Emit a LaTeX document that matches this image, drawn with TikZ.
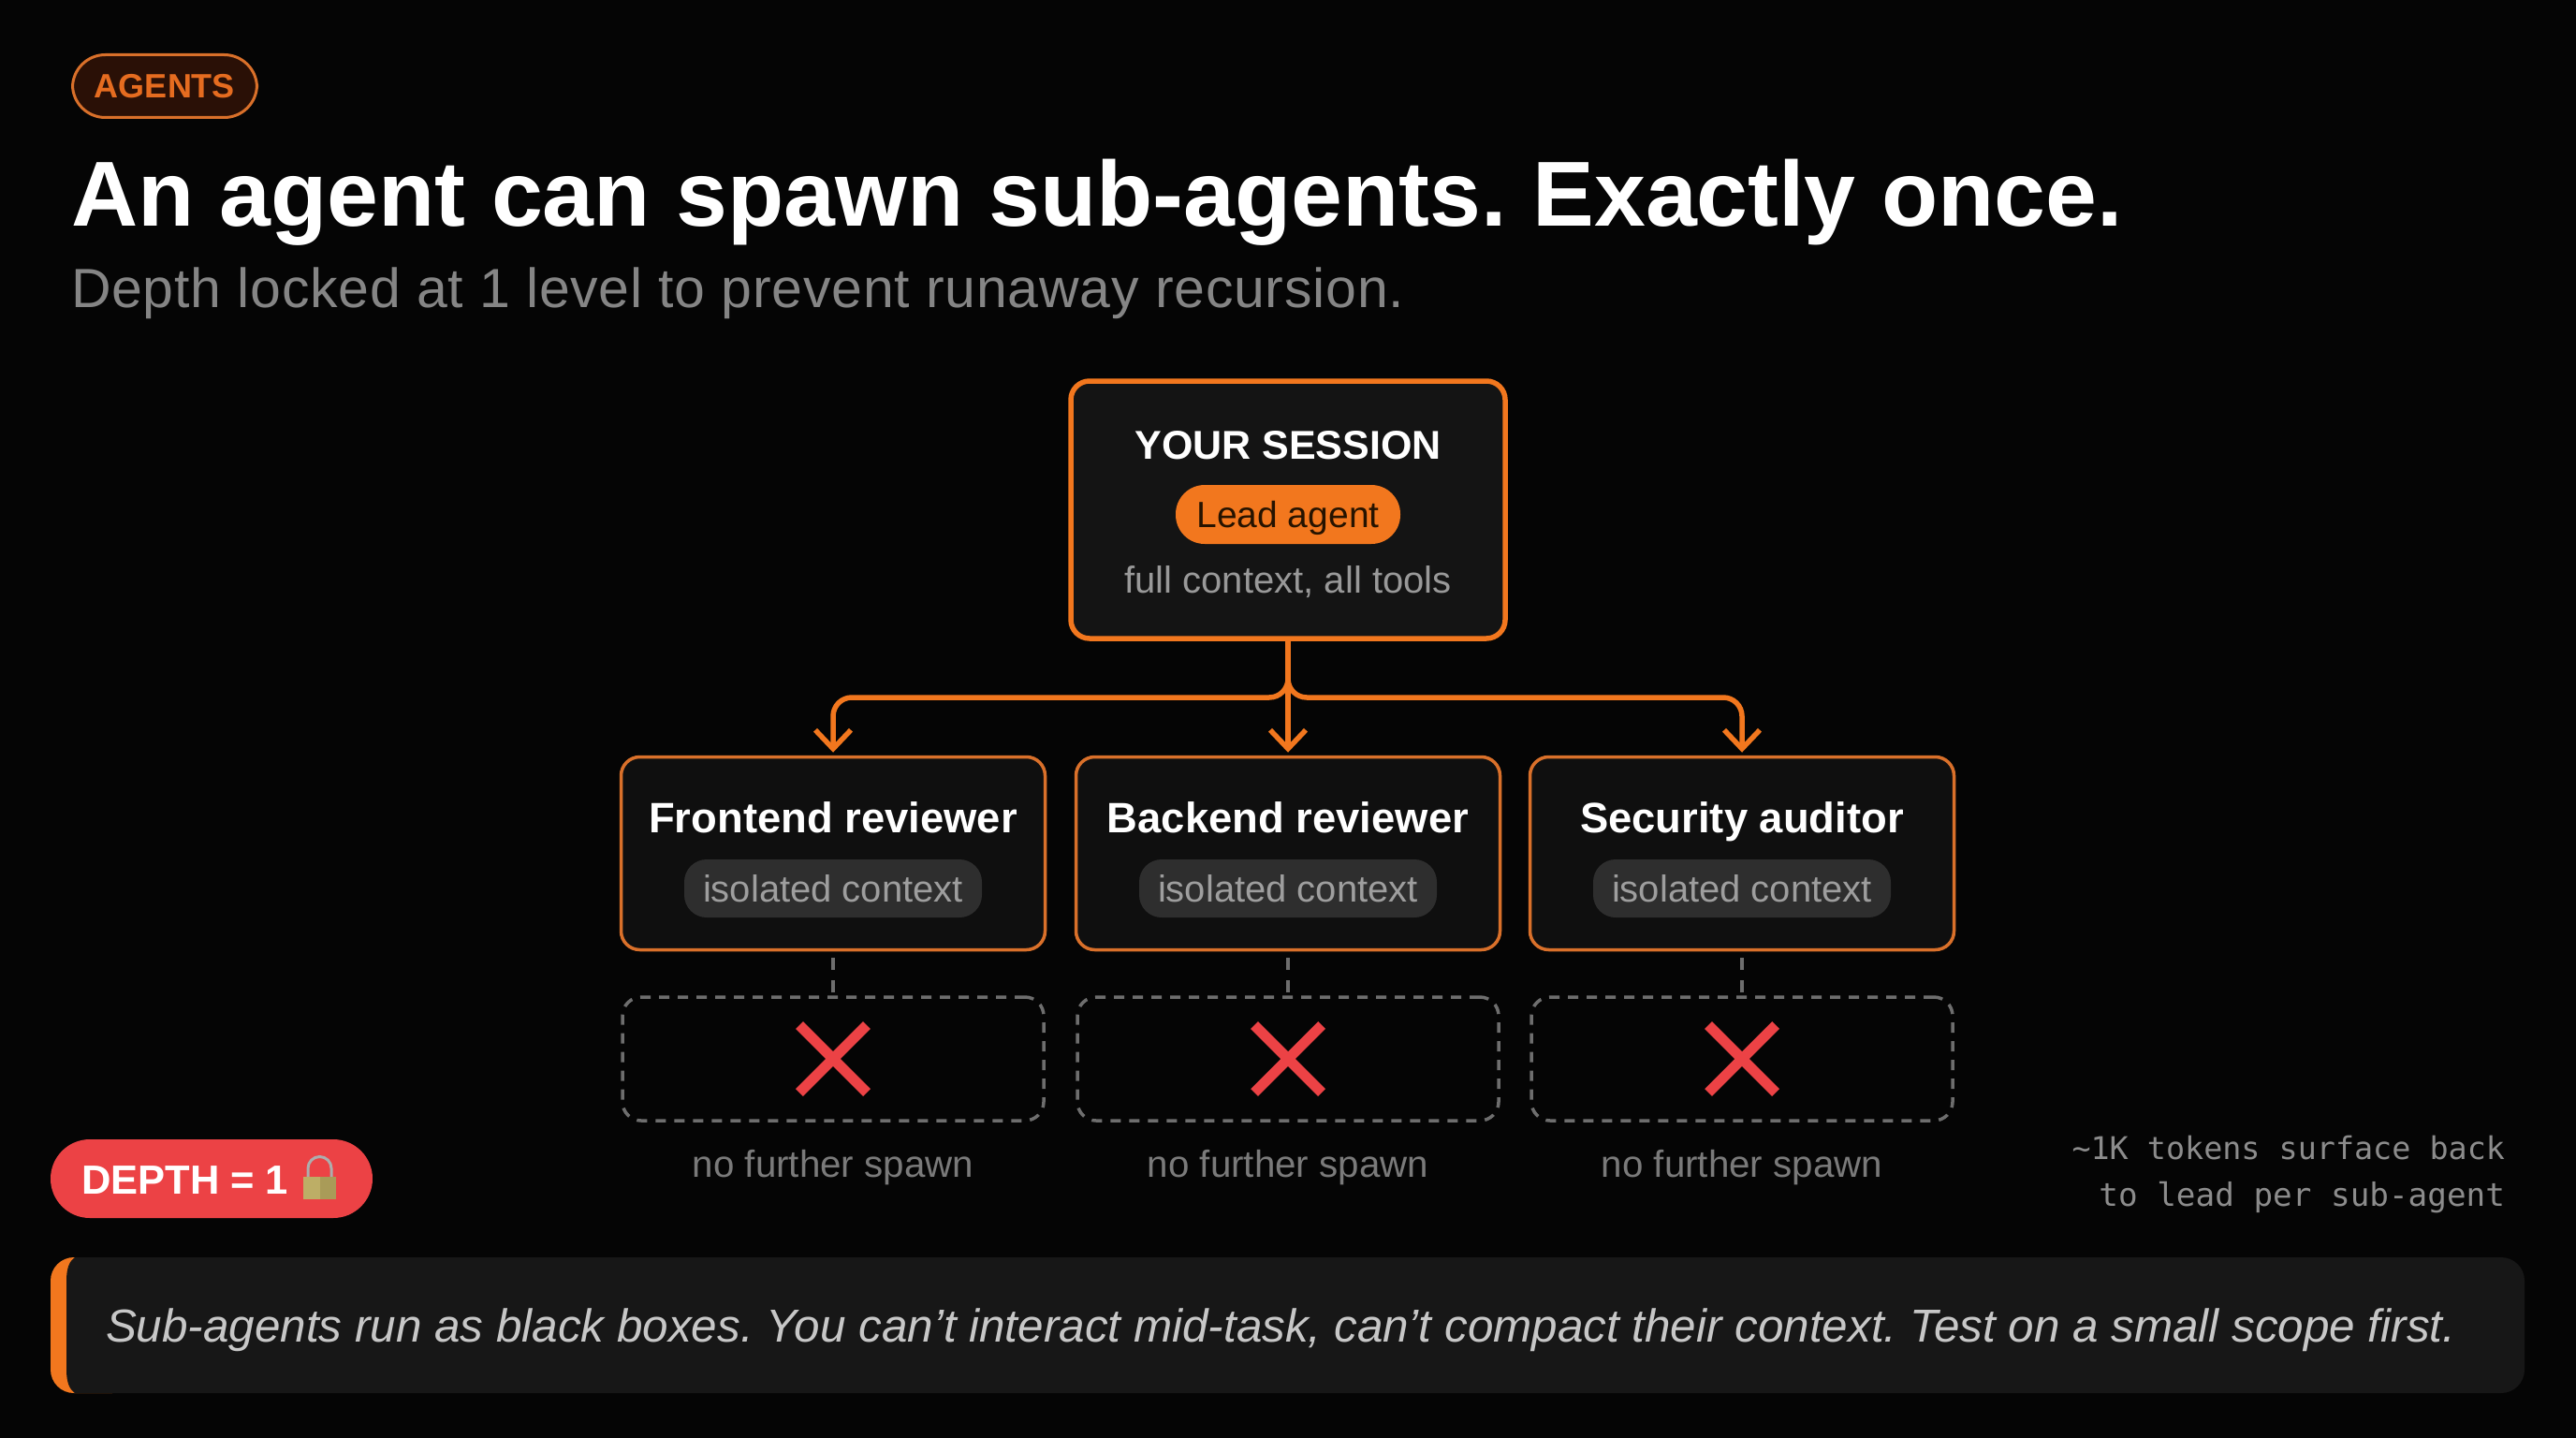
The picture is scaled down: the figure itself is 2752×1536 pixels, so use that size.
\documentclass[tikz,border=0pt]{standalone}
\usepackage{fontspec}
\setmainfont{Liberation Sans}
\setmonofont{DejaVu Sans Mono}
\usetikzlibrary{arrows.meta}
\definecolor{bgc}{HTML}{050505}
\definecolor{orangeA}{HTML}{F2771E}
\definecolor{orangeB}{HTML}{D9702A}
\definecolor{redA}{HTML}{EC4245}
\definecolor{tagtext}{HTML}{E56C20}
\definecolor{tagfill}{HTML}{2A1006}
\definecolor{lockL}{HTML}{BDAE66}
\definecolor{lockR}{HTML}{A99B58}
\newcommand{\fs}[1]{\fontsize{#1}{#1}\selectfont}
\frenchspacing
\tikzset{
  x=1pt,y=-1pt,
  txt/.style={anchor=base,inner sep=0pt,outer sep=0pt},
  leadbox/.style={draw=orangeA,line width=5.5pt,fill=black!92!white,rounded corners=20pt,minimum width=464pt,minimum height=275pt,inner sep=0pt},
  subbox/.style={draw=orangeB,line width=3.5pt,fill=black!94!white,rounded corners=20pt,minimum width=453pt,minimum height=206pt,inner sep=0pt},
  ghostbox/.style={draw=black!57!white,line width=3.5pt,dash pattern=on 11pt off 9pt,rounded corners=20pt,minimum width=450pt,minimum height=132pt,inner sep=0pt},
  pillgray/.style={fill=black!82!white,rounded corners=24pt,minimum width=318pt,minimum height=62pt,inner sep=0pt},
  conn/.style={draw=orangeA,line width=5.5pt,rounded corners=20pt,-{Straight Barb[length=20pt,width=38pt,line width=5.5pt]},shorten >=3pt},
  stub/.style={draw=black!57!white,line width=3.5pt,dash pattern=on 13pt off 11pt},
  cross/.style={draw=redA,line width=11pt},
}
\begin{document}
\begin{tikzpicture}
\useasboundingbox[fill=bgc] (0,0) rectangle (2752,1536);
% tag
\node[draw=orangeB,line width=3pt,fill=tagfill,rounded corners=35pt,minimum width=197pt,minimum height=67pt,inner sep=0pt] (tag) at (176,92) {};
\node[txt,text=tagtext] (tagt) at (176,105) {\fs{36}\bfseries AGENTS};
% heading
\node[txt,anchor=base west,text=white] (title) at (76,241) {\fs{98.6}\bfseries An agent can spawn sub-agents. Exactly once.};
\node[txt,anchor=base west,text=black!48!white] (subt) at (76,328) {\fs{59}\addfontfeature{LetterSpace=1.3}Depth locked at 1 level to prevent runaway recursion.};
% lead
\node[leadbox] (lead) at (1376,544.5) {};
\node[txt,text=white] (leadt) at (1376,490) {\fs{43}\bfseries YOUR SESSION};
\node[fill=orangeA,rounded corners=31pt,minimum width=240pt,minimum height=63pt,inner sep=0pt] (leadp) at (1376,549.5) {};
\node[txt,text=black!85!orange] (leadpt) at (1376,563) {\fs{39}Lead agent};
\node[txt,text=black!40!white] (leadn) at (1376,633) {\fs{40}full context, all tools};
% sub-agents
\foreach \n/\cx/\name in {a/890/Frontend reviewer,b/1376/Backend reviewer,c/1861/Security auditor}{
  \node[subbox] (box\n) at (\cx,911.5) {};
  \node[txt,text=white] (title\n) at (\cx,889) {\fs{45.4}\bfseries \name};
  \node[pillgray] (pill\n) at (\cx,949) {};
  \node[txt,text=black!38!white] (iso\n) at (\cx,963) {\fs{40}isolated context};
  \node[ghostbox] (ghost\n) at (\cx,1131) {};
  \draw[stub] (box\n.south) ++(0,7) -- (ghost\n.north);
  \coordinate (xc\n) at (\cx,1131);
  \draw[cross] ([shift={(-36,-36)}]xc\n) -- ([shift={(36,36)}]xc\n);
  \draw[cross] ([shift={(-36,36)}]xc\n) -- ([shift={(36,-36)}]xc\n);
  \node[txt,text=black!52!white] (no\n) at (\cx,1257) {\fs{40.3}no further spawn};
}
% connectors
\coordinate (jl) at (890,745);
\coordinate (jr) at (1861,745);
\draw[conn] (lead.south) |- (jl) -- (boxa.north);
\draw[conn] (lead.south) |- (jr) -- (boxc.north);
\draw[conn] (lead.south) -- (boxb.north);
% depth badge
\node[fill=redA,rounded corners=42pt,minimum width=344pt,minimum height=84pt,inner sep=0pt] (depth) at (226,1259) {};
\node[txt,anchor=base west,text=white] (deptht) at (87,1275) {\fs{43.5}\bfseries DEPTH = 1};
% lock
\draw[draw=black!32!white,line width=3pt] (329,1258) -- (329,1248) arc[start angle=180,end angle=360,radius=12.5] -- (354,1258);
\fill[lockL] (324,1257) rectangle (342,1281);
\fill[lockR] (342,1257) rectangle (359,1281);
% note
\node[txt,anchor=base east,text=black!45!white] (n1) at (2676,1238.5) {\ttfamily\fs{33.4}\char`\~1K tokens surface back};
\node[txt,anchor=base east,text=black!45!white] (n2) at (2676,1288) {\ttfamily\fs{34.3}to lead per sub-agent};
% bottom bar
\fill[orangeA] (54,1368) arc[start angle=180,end angle=270,radius=25] -- (120,1343) -- (120,1488) -- (79,1488) arc[start angle=90,end angle=180,radius=25] -- cycle;
\fill[black!91!white] (80,1343) .. controls (74,1347) and (71,1355) .. (71,1368) -- (71,1463) .. controls (71,1476) and (74,1484) .. (80,1488) -- (2672,1488) arc[start angle=90,end angle=0,radius=25] -- (2697,1368) arc[start angle=0,end angle=-90,radius=25] -- cycle;
\node[txt,anchor=base west,text=black!22!white] (barq) at (113,1433) {\fs{49.4}\itshape Sub-agents run as black boxes. You can’t interact mid-task, can’t compact their context. Test on a small scope first.};
\end{tikzpicture}
\end{document}
